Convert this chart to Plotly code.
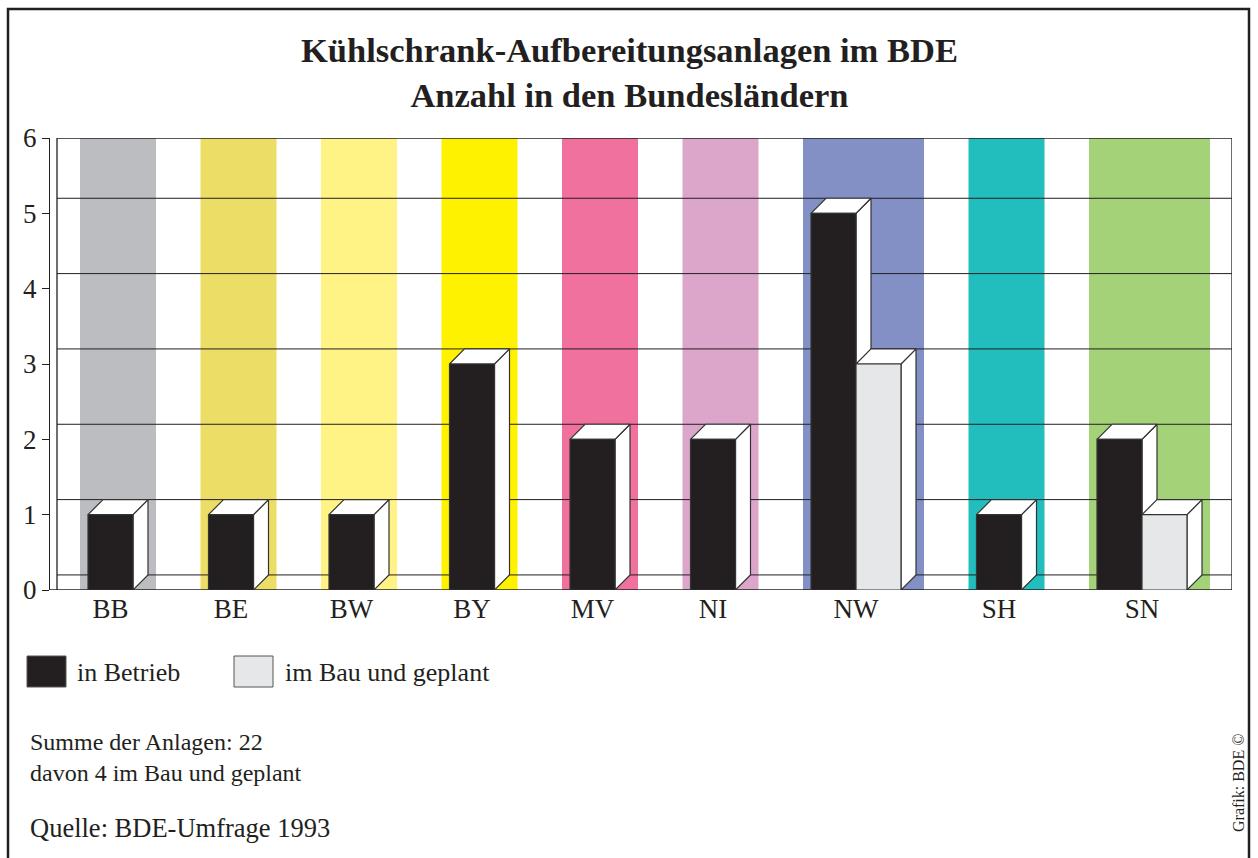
import plotly.graph_objects as go

# ---- data ----
categories = ["BB", "BE", "BW", "BY", "MV", "NI", "NW", "SH", "SN"]
in_betrieb = [1, 1, 1, 3, 2, 2, 5, 1, 2]
im_bau = [0, 0, 0, 0, 0, 0, 3, 0, 1]
band_colors = ["#bcbdc0", "#ebdd66", "#fff385", "#fff200", "#f0719d",
               "#dca6cb", "#8290c6", "#22bdbd", "#a3d278"]
series_names = ["in Betrieb", "im Bau und geplant"]
series_colors = ["#231f20", "#e6e7e8"]
y_ticks = [0, 1, 2, 3, 4, 5, 6]

# ---- layout constants (pixel-like x units) ----
W, H = 1258, 858
ML, MR, MT, MB = 50, 26, 138, 268
PW = W - ML - MR
PH = H - MT - MB
X_MIN, X_MAX = -7, 1175
BAR_W = 45
DEPTH_X = 15
DEPTH_Y = 0.2
PAD = 8
GAP = 44.5
X0 = 23
FONT = "Liberation Serif"
INK = "#231f20"
EDGE = "#333333"


def px_x(px):
    return (px - ML) / PW


def px_y(py):
    return (H - MB - py) / PH


fig = go.Figure()
shapes = []
tick_pos = []

# bands + bars
start = X0
bars = []
for i, cat in enumerate(categories):
    vals = [v for v in (in_betrieb[i], im_bau[i])]
    n = sum(1 for v in vals if v > 0)
    band_w = n * BAR_W + DEPTH_X + 2 * PAD
    shapes.append(dict(type="rect", xref="x", yref="y", x0=start, x1=start + band_w,
                       y0=0, y1=6, fillcolor=band_colors[i], line=dict(width=0),
                       layer="below"))
    j = 0
    for s, v in enumerate(vals):
        if v <= 0:
            continue
        bx0 = start + PAD + j * BAR_W
        bars.append((bx0, bx0 + BAR_W, v, series_colors[s]))
        j += 1
    tick_pos.append(start + PAD + n * BAR_W / 2)
    start += band_w + GAP

# gridlines (back wall, offset by depth)
for k in range(6):
    shapes.append(dict(type="line", xref="x", yref="y", x0=0, x1=X_MAX,
                       y0=k + DEPTH_Y, y1=k + DEPTH_Y,
                       line=dict(color=INK, width=1), layer="below"))
# plot box
shapes.append(dict(type="line", xref="x", yref="y", x0=0, x1=X_MAX, y0=6, y1=6,
                   line=dict(color=INK, width=1.3), layer="below"))
shapes.append(dict(type="line", xref="x", yref="y", x0=0, x1=0, y0=0, y1=6,
                   line=dict(color=INK, width=1.3), layer="below"))
shapes.append(dict(type="line", xref="x", yref="y", x0=X_MAX, x1=X_MAX, y0=0, y1=6,
                   line=dict(color=INK, width=1.3), layer="below"))
shapes.append(dict(type="line", xref="x", yref="y", x0=X_MIN, x1=X_MAX, y0=0, y1=0,
                   line=dict(color=INK, width=1.3), layer="below"))

# 3D bars
for bx0, bx1, v, col in bars:
    side_x = [bx1, bx1 + DEPTH_X, bx1 + DEPTH_X, bx1, bx1]
    side_y = [0, DEPTH_Y, v + DEPTH_Y, v, 0]
    top_x = [bx0, bx0 + DEPTH_X, bx1 + DEPTH_X, bx1, bx0]
    top_y = [v, v + DEPTH_Y, v + DEPTH_Y, v, v]
    front_x = [bx0, bx1, bx1, bx0, bx0]
    front_y = [0, 0, v, v, 0]
    for xs, ys, fc in ((side_x, side_y, "white"), (top_x, top_y, "white"),
                       (front_x, front_y, col)):
        fig.add_trace(go.Scatter(x=xs, y=ys, mode="lines", fill="toself",
                                 fillcolor=fc, line=dict(color=EDGE, width=1.2),
                                 hoverinfo="skip", showlegend=False))

# frame around whole graphic
shapes.append(dict(type="rect", xref="paper", yref="paper",
                   x0=px_x(8), x1=px_x(1249), y0=px_y(880), y1=px_y(9),
                   line=dict(color=INK, width=2.5), fillcolor="rgba(0,0,0,0)",
                   layer="above"))

# legend squares
legend_items = [(27, 66), (234, 273)]
for (lx0, lx1), col in zip(legend_items, series_colors):
    shapes.append(dict(type="rect", xref="paper", yref="paper",
                       x0=px_x(lx0), x1=px_x(lx1), y0=px_y(687), y1=px_y(656),
                       fillcolor=col, line=dict(color="#555555", width=1)))


def note(text, x, y, size=25, **kw):
    d = dict(text=text, x=px_x(x), y=px_y(y), xref="paper", yref="paper",
             showarrow=False, xanchor="left", yanchor="middle",
             font=dict(family=FONT, size=size, color=INK))
    d.update(kw)
    return d


annotations = [
    note("<b>Kühlschrank-Aufbereitungsanlagen im BDE<br>Anzahl in den Bundesländern</b>",
         629, 72, size=34.5, xanchor="center", align="center"),
    note(series_names[0], 75, 672, size=26),
    note(series_names[1], 283, 672, size=26),
    note(f"Summe der Anlagen: {sum(in_betrieb) + sum(im_bau)}<br>"
         f"davon {sum(im_bau)} im Bau und geplant", 28, 757, size=24, align="left"),
    note("Quelle: BDE-Umfrage 1993", 28, 828, size=26.5),
    note("Grafik: BDE ©", 1238, 783, size=16, textangle=-90, xanchor="center"),
]

fig.update_layout(
    width=W, height=H,
    margin=dict(l=ML, r=MR, t=MT, b=MB, pad=0),
    paper_bgcolor="white", plot_bgcolor="white",
    shapes=shapes, annotations=annotations,
    showlegend=False,
    xaxis=dict(range=[X_MIN, X_MAX], tickvals=tick_pos, ticktext=categories,
               showgrid=False, zeroline=False, showline=False, ticks="",
               tickfont=dict(family=FONT, size=27, color=INK), fixedrange=True),
    yaxis=dict(range=[0, 6], tickvals=y_ticks, showgrid=False, zeroline=False,
               showline=True, linecolor=INK, linewidth=1.3, ticks="outside",
               ticklen=7, tickwidth=1.2, tickcolor=INK,
               tickfont=dict(family=FONT, size=27, color=INK), fixedrange=True),
)

fig.write_html("out.html", post_script="document.body.style.margin='0';",
               config={"displayModeBar": False})
